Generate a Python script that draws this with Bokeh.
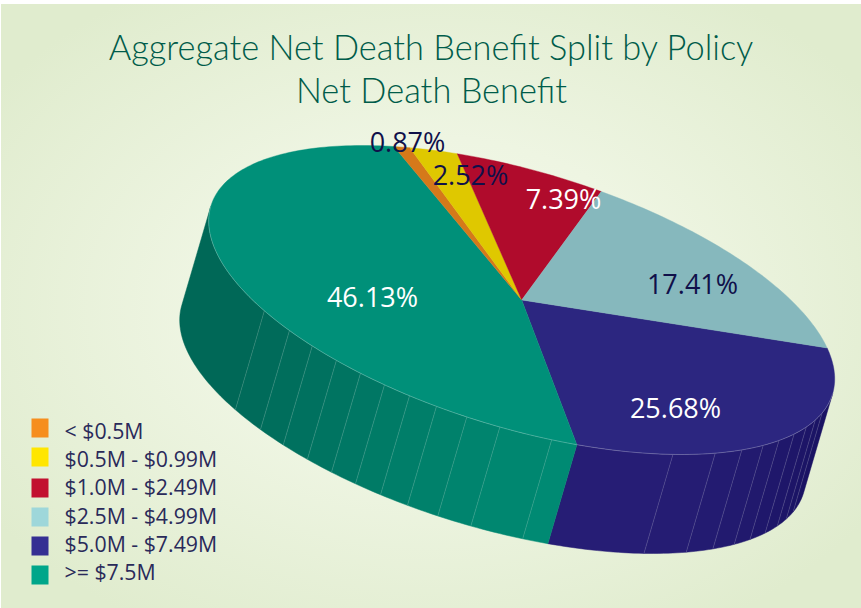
import math
from bokeh.embed import file_html
from bokeh.models import Range1d
from bokeh.plotting import figure
from bokeh.resources import INLINE
from bokeh.core.properties import value

# ---- data ----
categories = ["< $0.5M", "$0.5M - $0.99M", "$1.0M - $2.49M", "$2.5M - $4.99M", "$5.0M - $7.49M", ">= $7.5M"]
shares = [0.87, 2.52, 7.39, 17.41, 25.68, 46.13]
share_labels = ["0.87%", "2.52%", "7.39%", "17.41%", "25.68%", "46.13%"]
title_lines = ["Aggregate Net Death Benefit Split by Policy", "Net Death Benefit"]

# ---- styles ----
legend_colors = ["#f68e1e", "#ffe600", "#c2102f", "#9ed7da", "#352f93", "#00a68a"]
top_colors = ["#d5791a", "#dfc800", "#b00b2c", "#86b8bd", "#2c2680", "#009079"]
label_colors = ["#10104a", "#10104a", "#ffffff", "#10104a", "#ffffff", "#ffffff"]
label_x = [407, 470, 563, 692, 675, 372]
label_y = [141, 174, 198, 283, 407, 296]

# ---- projection of the tilted disc ----
CX, CY, RX, RY, TILT = 521.2, 299.5, 313.0, 154.5, math.radians(59.3)
DX, DY = -29.0, 99.0
START = -12.6           # angle where the 25.68% slice begins


def rim(t_deg, dx=0.0, dy=0.0):
    t = math.radians(t_deg)
    return CX + RX * math.cos(t) + dx, CY + RY * math.cos(t - TILT) + dy


def arc(a, b, dx=0.0, dy=0.0, step=1.0):
    n = max(2, int(abs(b - a) / step) + 1)
    pts = [rim(a + (b - a) * i / (n - 1), dx, dy) for i in range(n)]
    return [q[0] for q in pts], [q[1] for q in pts]


# Slices run clockwise from the 25.68% one
order = [4, 5, 0, 1, 2, 3]
spans = {}
a = START
for i in order:
    spans[i] = (a, a + shares[i] * 3.6)
    a = spans[i][1]

p = figure(width=861, height=608, x_range=Range1d(0, 861), y_range=Range1d(608, 0),
           output_backend="svg", toolbar_location=None, min_border=0,
           background_fill_color=None, border_fill_color=None, outline_line_color=None)
p.axis.visible = False
p.grid.visible = False
p.styles = {"background": "radial-gradient(ellipse 62% 62% at 50% 50%, #f4f9ec 0%, #eef5e2 45%, #e0ecce 100%) no-repeat 1px 4px / 860px 604px, #ffffff"}

# ---- side wall facets ----
WALL_START, WALL_END = 6.6, 186.6
split = spans[4][1]
blue_edges = [WALL_START, 16.3, 20.3, 24.6, 29.5, 34.7, 39.5, 45.3, 51.8, 61.1, split]
teal_edges = [split, 84.5, 94, 100.1, 105.8, 111, 116, 121, 126.3, 132, 137.9, 145.3, WALL_END]


def mix(c1, c2, f):
    return "#%02x%02x%02x" % tuple(round(u + (v - u) * f) for u, v in zip(c1, c2))


fx, fy, fc = [], [], []
for edges, dark, light, rev in [(blue_edges, (0x1a, 0x13, 0x63), (0x26, 0x1d, 0x75), False),
                                (teal_edges, (0x00, 0x68, 0x57), (0x00, 0x8a, 0x73), True)]:
    for k in range(len(edges) - 1):
        x1, y1 = arc(edges[k], edges[k + 1])
        x2, y2 = arc(edges[k + 1], edges[k], DX, DY)
        fx.append(x1 + x2)
        fy.append(y1 + y2)
        f = k / (len(edges) - 2)
        fc.append(mix(dark, light, 1 - f if rev else f))
p.patches(fx, fy, fill_color=fc, line_color=fc, line_width=0.5)

# divider lines on the wall
div_edges = blue_edges[1:-1] + teal_edges[1:-1]
dx0, dy0 = zip(*[rim(e) for e in div_edges])
dx1, dy1 = zip(*[rim(e, DX, DY) for e in div_edges])
p.segment(dx0, dy0, dx1, dy1, line_color="#ffffff", line_alpha=0.22, line_width=0.7)

# ---- top slices ----
sx, sy, sc = [], [], []
for i in order:
    xs, ys = arc(*spans[i])
    sx.append([CX] + xs)
    sy.append([CY] + ys)
    sc.append(top_colors[i])
p.patches(sx, sy, fill_color=sc, line_color=sc, line_width=0.4)

# rim highlight along the wall
rx, ry = arc(WALL_START, WALL_END)
p.line(rx, ry, line_color="#ffffff", line_alpha=0.3, line_width=0.8)

# ---- texts ----
p.text(x=[431, 431], y=[46, 88.5], text=title_lines, text_font=value("Lato Light"),
       text_font_size="34.4px", text_color="#005c4a", text_align="center", text_baseline="middle")
p.text(x=label_x, y=label_y, text=share_labels, text_color=label_colors, text_font=value("Open Sans"),
       text_font_size="27px", text_align="center", text_baseline="middle")

# ---- legend ----
leg_top = [418, 447, 478, 507, 536, 565]
p.quad(left=[31] * 6, right=[48] * 6, top=leg_top, bottom=[v + 19 for v in leg_top],
       fill_color=legend_colors, line_color=None)
p.text(x=[64] * 6, y=[430, 458, 486, 515, 543, 571], text=categories, text_font=value("Open Sans"),
       text_font_size="21.3px", text_color="#2a2a5a", text_align="left", text_baseline="middle")

open("out.html", "w").write(file_html(p, INLINE))
